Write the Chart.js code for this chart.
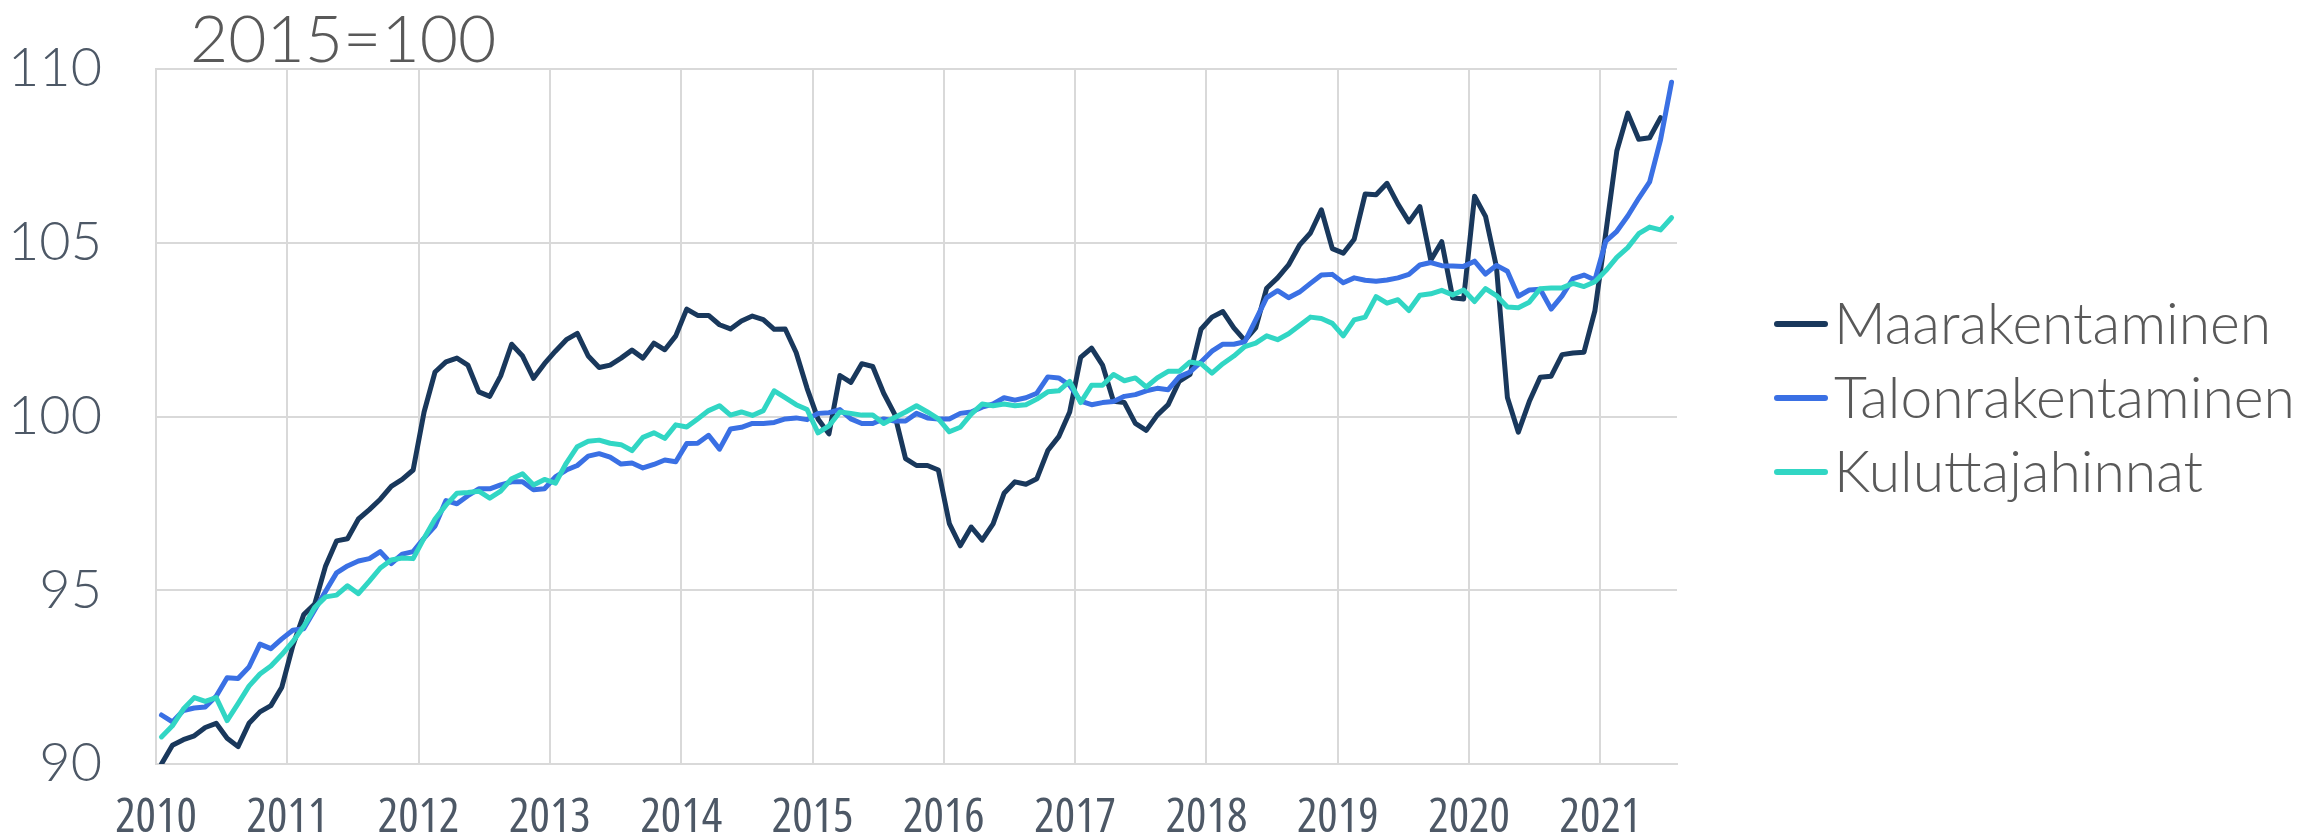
<!DOCTYPE html>
<html>
<head>
<meta charset="utf-8">
<script src="https://cdn.jsdelivr.net/npm/chart.js@4.4.1/dist/chart.umd.min.js"></script>
<style>
  body { margin: 0; background: #fff; }
  #chart-div { width: 2308px; height: 833px; }
</style>
</head>
<body>
<div id="chart-div"><canvas id="lineChart" width="2308" height="833"></canvas></div>
<script>
/* ------------------------------------ Data ------------------------------ */

// monthly index, Jan 2010 - Jul 2021 (2015=100)
const yearLabels = ['2010','2011','2012','2013','2014','2015','2016','2017','2018','2019','2020','2021']

const maarakentaminen = [
    90.0, 90.54, 90.7, 90.81, 91.05, 91.17, 90.74, 90.5, 91.17, 91.5, 91.68, 92.21,
    93.4, 94.3, 94.6, 95.7, 96.42, 96.48, 97.05, 97.32, 97.62, 97.99, 98.19, 98.46,
    100.13, 101.28, 101.57, 101.68, 101.48, 100.71, 100.58, 101.17, 102.08, 101.74, 101.1, 101.52,
    101.88, 102.21, 102.39, 101.74, 101.41, 101.48, 101.68, 101.91, 101.68, 102.11, 101.92, 102.32,
    103.09, 102.91, 102.91, 102.64, 102.52, 102.75, 102.89, 102.79, 102.51, 102.52, 101.84, 100.81,
    99.93, 99.5, 101.18, 100.98, 101.52, 101.44, 100.67, 100.07, 98.79, 98.59, 98.59, 98.46,
    96.92, 96.28, 96.82, 96.44, 96.91, 97.79, 98.12, 98.05, 98.21, 99.02, 99.42, 100.13,
    101.7, 101.97, 101.48, 100.44, 100.4, 99.8, 99.6, 100.04, 100.34, 101.01, 101.21, 102.51,
    102.86, 103.02, 102.55, 102.19, 102.55, 103.69, 103.99, 104.36, 104.93, 105.28, 105.95, 104.83,
    104.7, 105.1, 106.4, 106.38, 106.71, 106.11, 105.6, 106.04, 104.5, 105.03, 103.42, 103.38,
    106.34, 105.76, 104.3, 100.55, 99.55, 100.43, 101.13, 101.16, 101.78, 101.83, 101.85, 103.05,
    105.3, 107.64, 108.73, 107.98, 108.02, 108.6
]

const talonrakentaminen = [
    91.41, 91.21, 91.54, 91.61, 91.64, 91.95, 92.48, 92.46, 92.79, 93.45, 93.32, 93.6,
    93.85, 93.89, 94.43, 94.97, 95.5, 95.7, 95.84, 95.91, 96.11, 95.77, 96.04, 96.11,
    96.5, 96.85, 97.58, 97.49, 97.72, 97.92, 97.92, 98.03, 98.12, 98.12, 97.89, 97.92,
    98.26, 98.46, 98.59, 98.86, 98.93, 98.83, 98.63, 98.66, 98.52, 98.62, 98.75, 98.7,
    99.22, 99.23, 99.46, 99.06, 99.64, 99.69, 99.8, 99.8, 99.83, 99.93, 99.96, 99.91,
    100.09, 100.11, 100.2, 99.93, 99.8, 99.8, 99.93, 99.87, 99.87, 100.09, 99.96, 99.93,
    99.93, 100.09, 100.13, 100.27, 100.36, 100.54, 100.47, 100.54, 100.67, 101.14, 101.11, 100.9,
    100.44, 100.34, 100.4, 100.43, 100.58, 100.63, 100.74, 100.81, 100.77, 101.14, 101.28, 101.57,
    101.88, 102.08, 102.08, 102.15, 102.78, 103.42, 103.62, 103.42, 103.58, 103.83, 104.07, 104.09,
    103.85, 103.99, 103.92, 103.89, 103.93, 103.99, 104.09, 104.36, 104.43, 104.34, 104.33, 104.32,
    104.47, 104.1, 104.35, 104.18, 103.46, 103.64, 103.66, 103.09, 103.47, 103.97, 104.07, 103.93,
    105.05, 105.33, 105.77, 106.28, 106.75, 107.97, 109.62
]

const kuluttajahinnat = [
    90.78, 91.1, 91.58, 91.91, 91.8, 91.91, 91.25, 91.74, 92.24, 92.59, 92.82, 93.15,
    93.52, 93.96, 94.5, 94.81, 94.86, 95.13, 94.9, 95.26, 95.64, 95.87, 95.93, 95.91,
    96.5, 97.05, 97.45, 97.79, 97.81, 97.85, 97.65, 97.85, 98.21, 98.35, 98.03, 98.19,
    98.08, 98.66, 99.13, 99.29, 99.32, 99.23, 99.19, 99.02, 99.4, 99.53, 99.37, 99.76,
    99.7, 99.93, 100.17, 100.31, 100.04, 100.13, 100.03, 100.17, 100.74, 100.54, 100.34, 100.2,
    99.53, 99.73, 100.13, 100.09, 100.04, 100.04, 99.8, 99.97, 100.13, 100.31, 100.13, 99.93,
    99.56, 99.69, 100.07, 100.36, 100.31, 100.36, 100.31, 100.34, 100.5, 100.71, 100.74, 101.01,
    100.4, 100.9, 100.9, 101.21, 101.03, 101.11, 100.85, 101.11, 101.3, 101.3, 101.57, 101.52,
    101.25, 101.52, 101.74, 102.01, 102.11, 102.32, 102.21, 102.38, 102.62, 102.86, 102.82, 102.68,
    102.32, 102.78, 102.86, 103.45, 103.26, 103.36, 103.05, 103.49, 103.53, 103.63, 103.5, 103.64,
    103.31, 103.68, 103.48, 103.15, 103.13, 103.29, 103.68, 103.7, 103.7, 103.83, 103.74, 103.88,
    104.2, 104.58, 104.86, 105.26, 105.45, 105.37, 105.72
]

const yTicks = [90, 95, 100, 105, 110]
const titleText = '2015=100'

/* ------------------------------------ Chart ------------------------------ */

// each month sits in the middle of its slot, year gridlines on slot edges
const toPoints = (values) => values.map((v, i) => ({x: i + 0.5, y: v}))

const gridColor = '#d9d9d9'
const tickColor = '#4d5866'
const textColor = '#595959'

// title and legend drawn beside the plot, like the original
const sideText = {
    id: 'sideText',
    afterDraw(chart) {
        const ctx = chart.ctx
        ctx.save()
        ctx.fillStyle = textColor
        ctx.textBaseline = 'alphabetic'
        ctx.font = '300 66px Lato'
        ctx.fillText(titleText, 190, 62)
        ctx.font = '300 57px Lato'
        chart.data.datasets.forEach((ds, i) => {
            const y = 324 + i * 74
            ctx.strokeStyle = ds.borderColor
            ctx.lineWidth = 6
            ctx.lineCap = 'round'
            ctx.beginPath()
            ctx.moveTo(1777, y)
            ctx.lineTo(1825, y)
            ctx.stroke()
            ctx.fillText(ds.label, 1834, y + 20)
        })
        ctx.restore()
    }
}

const data = {
    datasets: [{
        label: 'Maarakentaminen',
        data: toPoints(maarakentaminen),
        borderColor: '#19385c',
        order: 3
    }, {
        label: 'Talonrakentaminen',
        data: toPoints(talonrakentaminen),
        borderColor: '#3a70e4',
        order: 2
    }, {
        label: 'Kuluttajahinnat',
        data: toPoints(kuluttajahinnat),
        borderColor: '#31d6c4',
        order: 1
    }]
}

const config = {
    type: 'line',
    data: data,
    options: {
        responsive: false,
        animation: false,
        layout: {
            padding: {top: 69, right: 631, bottom: 0, left: 0}
        },
        elements: {
            line: {borderWidth: 5, tension: 0, borderJoinStyle: 'round', borderCapStyle: 'round'},
            point: {radius: 0}
        },
        plugins: {
            legend: {display: false},
            tooltip: {enabled: false}
        },
        scales: {
            x: {
                type: 'linear',
                min: 0,
                max: maarakentaminen.length + 1,
                afterFit: (axis) => {
                    axis.height = 69
                    axis.paddingLeft = 0
                    axis.paddingRight = 0
                },
                afterBuildTicks: (axis) => {
                    axis.ticks = yearLabels.map((_, i) => ({value: i * 12}))
                },
                grid: {color: gridColor, lineWidth: 2, drawTicks: false},
                border: {color: gridColor, width: 2},
                ticks: {
                    padding: 26,
                    color: tickColor,
                    maxRotation: 0,
                    autoSkip: false,
                    font: {family: "'Liberation Sans Narrow', 'Open Sans', sans-serif", weight: '400 condensed', size: 48},
                    callback: (v) => yearLabels[v / 12]
                }
            },
            y: {
                min: 90,
                max: 110,
                afterFit: (axis) => {
                    axis.width = 156
                    axis.paddingTop = 0
                    axis.paddingBottom = 0
                },
                afterBuildTicks: (axis) => {
                    axis.ticks = yTicks.map(v => ({value: v}))
                },
                grid: {color: gridColor, lineWidth: 2, drawTicks: false},
                border: {color: gridColor, width: 2},
                ticks: {
                    padding: 54,
                    color: tickColor,
                    font: {family: 'Lato', weight: 300, size: 54}
                }
            }
        }
    },
    plugins: [sideText]
}

var ctx = document.getElementById('lineChart')
var lineChart = new Chart(ctx, config)
</script>
</body>
</html>
